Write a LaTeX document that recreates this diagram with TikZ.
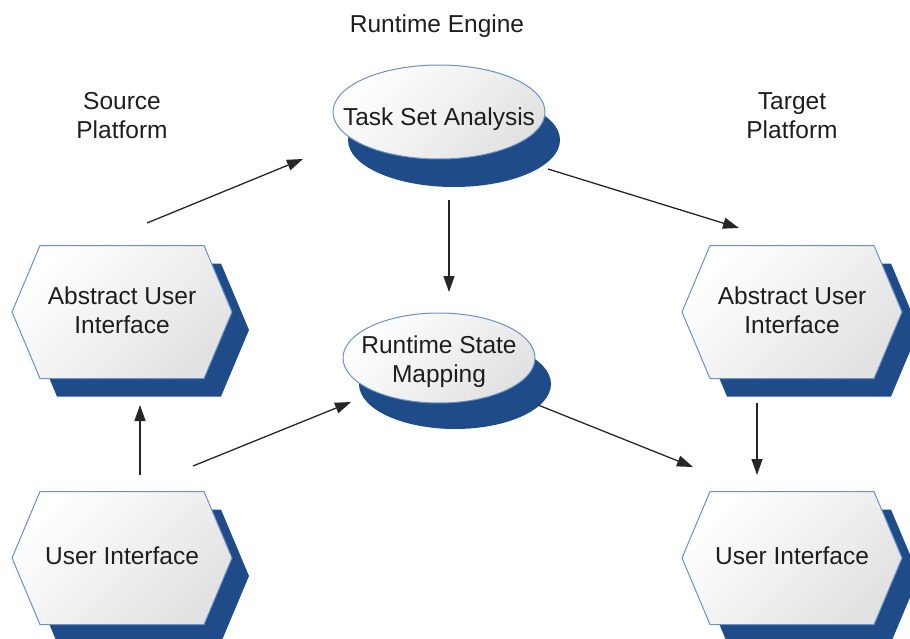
\documentclass[tikz,border=0pt]{standalone}
\usepackage{fontspec}
\setmainfont{Liberation Sans}
\usetikzlibrary{calc,arrows.meta}
\pgfdeclarelayer{shapes}
\pgfsetlayers{shapes,main}
\definecolor{shadowblue}{HTML}{1F4C88}
\definecolor{rimblue}{HTML}{6B92C6}
\definecolor{paleface}{HTML}{E2E2E2}
\definecolor{inkgray}{HTML}{1E1E1E}
\begin{document}
\begin{tikzpicture}[x=1pt,y=-1pt,
  every node/.style={font=\fontsize{24.5}{29}\selectfont, text=inkgray,
    inner sep=0pt, align=center},
  face/.style={draw=rimblue, line width=1pt, top color=white,
    bottom color=paleface, shading angle=45},
  extrude/.style={fill=shadowblue},
  conn/.style={draw=black!85, line width=1.3pt,
    -{Triangle[length=16pt,width=11pt]}}]
\useasboundingbox (0,0) rectangle (910,639);

% captions
\node (eng) at (437,26) {Runtime Engine};
\node (src) at (122,116) {Source\\Platform};
\node (tgt) at (792,116) {Target\\Platform};

% platform boxes
\node (sa)  at (122,310) {Abstract User\\Interface};
\node (sui) at (122,556) {User Interface};
\node (ta)  at (792,310) {Abstract User\\Interface};
\node (tui) at (792,556) {User Interface};

% engine stages
\node (tsa) at (439,119) {Task Set Analysis};
\node (rsm) at (439,362) {Runtime State\\Mapping};

% hexagon and disc bodies behind the labels
\begin{pgfonlayer}{shapes}
  \foreach \n in {sa,sui,ta,tui}{
    \fill[extrude] ($(\n)+(17,20)$) +(-110,0) -- +(-82,-66.5) -- +(82,-66.5)
      -- +(110,0) -- +(82,66.5) -- +(-82,66.5) -- cycle;
    \path[face] ($(\n)+(0,2)$) +(-110,0) -- +(-82,-66.5) -- +(82,-66.5)
      -- +(110,0) -- +(82,66.5) -- +(-82,66.5) -- cycle;
  }
  \fill[extrude] ($(tsa)+(15,21)$) ellipse [x radius=106, y radius=47];
  \path[face] ($(tsa)+(0,-7)$) ellipse [x radius=106, y radius=47];
  \fill[extrude] ($(rsm)+(16,22)$) ellipse [x radius=96, y radius=45];
  \path[face] ($(rsm)+(0,-4)$) ellipse [x radius=96, y radius=45];
\end{pgfonlayer}

% flows
\draw[conn] ($(sa)+(25,-87)$) -- ($(tsa)+(-136,40)$);
\draw[conn] ($(tsa)+(109,50)$) -- ($(ta)+(-53,-82)$);
\draw[conn] ($(tsa)+(10,81)$) -- ($(rsm)+(10,-70)$);
\draw[conn] ($(sui)+(18,-81)$) -- ($(sa)+(18,95)$);
\draw[conn] ($(sui)+(71,-90)$) -- ($(rsm)+(-88,40)$);
\draw[conn] ($(rsm)+(99,43)$) -- ($(tui)+(-99,-89)$);
\draw[conn] ($(ta)+(-35,93)$) -- ($(tui)+(-35,-81)$);
\end{tikzpicture}
\end{document}
